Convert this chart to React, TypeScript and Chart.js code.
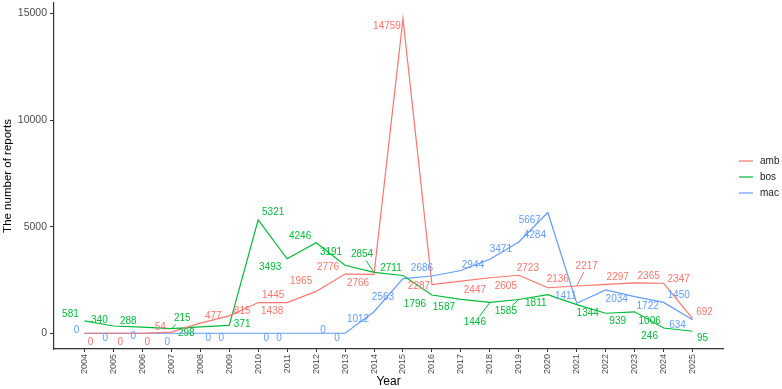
import React, { useEffect, useRef } from "react";
import { Chart, registerables } from "chart.js";

Chart.register(...registerables);

const years = [2004, 2005, 2006, 2007, 2008, 2009, 2010, 2011, 2012, 2013, 2014, 2015, 2016, 2017, 2018, 2019, 2020, 2021, 2022, 2023, 2024, 2025];
const amb = [0, 0, 0, 54, 477, 815, 1445, 1438, 1965, 2776, 2766, 14759, 2287, 2447, 2605, 2723, 2136, 2217, 2297, 2365, 2347, 692];
const bos = [581, 340, 288, 215, 298, 371, 5321, 3493, 4246, 3191, 2854, 2711, 1796, 1587, 1446, 1585, 1811, 1344, 939, 1006, 246, 95];
const mac = [0, 0, 0, 0, 0, 0, 0, 0, 0, 0, 1012, 2563, 2686, 2944, 3471, 4284, 5667, 1411, 2034, 1722, 1450, 634];
const seriesNames = ["amb", "bos", "mac"];
const yTicks = [0, 5000, 10000, 15000];

// label placement (pixel offsets from point, flag = draw connector)
const ambOffsets: [number, number, number][] = [
  [6, 9, 0], [7, 9, 0], [5, 9, 0], [-11, -5, 0], [13, -7, 0], [13, -5, 0], [15, -7, 0], [-15, 9, 0],
  [-15, -10, 0], [-17, -7, 0], [-16, 9, 0], [-16, 8, 0], [-13, 2, 0], [14, 9, 0], [16, 8, 0], [9, -7, 0],
  [10, -8, 0], [10, -20, 1], [12, -7, 0], [14, -7, 0], [15, -4, 0], [12, -6, 0],
];
const bosOffsets: [number, number, number][] = [
  [-14, -7, 0], [-14, -6, 0], [-14, -6, 0], [11, -10, 1], [-14, 6, 0], [13, -1, 0], [15, -8, 0], [-17, 8, 0],
  [-16, -7, 0], [-14, -13, 0], [-12, -18, 1], [-12, -7, 0], [-17, 9, 0], [-17, 8, 0], [-15, 20, 1], [-13, 12, 1],
  [-12, 9, 0], [11, 9, 0], [12, 8, 0], [15, 9, 0], [-14, 8, 0], [10, 7, 0],
];
const macOffsets: [number, number, number][] = [
  [-8, -3, 0], [-8, 5, 0], [-9, 3, 0], [-4, 9, 0], [8, 5, 0], [-8, 5, 0], [8, 5, 0], [-8, 5, 0],
  [7, -3, 0], [-8, 5, 0], [-16, 8, 0], [-20, 19, 0], [-10, -8, 0], [12, -5, 0], [11, -10, 0], [16, -7, 0],
  [-18, 8, 0], [-11, -7, 0], [11, 9, 0], [13, 10, 0], [15, -7, 0], [-15, 5, 0],
];

const colors = ["#F8766D", "#00BA38", "#619CFF"];
const FONT = '"Liberation Sans", Arial, Helvetica, sans-serif';

const labelPlugin = {
  id: "repelLabels",
  afterDatasetsDraw(chart: any) {
    const { ctx } = chart;
    const xs = chart.scales.x;
    const ys = chart.scales.y;
    const defs = [
      { values: amb, offsets: ambOffsets, color: colors[0] },
      { values: bos, offsets: bosOffsets, color: colors[1] },
      { values: mac, offsets: macOffsets, color: colors[2] },
    ];
    ctx.save();
    ctx.font = `10px ${FONT}`;
    ctx.textAlign = "center";
    ctx.textBaseline = "middle";
    defs.forEach((s) => {
      s.values.forEach((v, i) => {
        const px = xs.getPixelForValue(years[i]);
        const py = ys.getPixelForValue(v);
        const [dx, dy, seg] = s.offsets[i];
        const lx = px + dx;
        const ly = py + dy;
        const text = String(v);
        if (seg) {
          const w = ctx.measureText(text).width / 2 + 1;
          const h = 6;
          const ddx = px - lx;
          const ddy = py - ly;
          const t = Math.min(Math.abs(w / (ddx || 1e-6)), Math.abs(h / (ddy || 1e-6)));
          const sx = lx + ddx * t;
          const sy = ly + ddy * t;
          ctx.strokeStyle = s.color;
          ctx.lineWidth = 1;
          ctx.beginPath();
          ctx.moveTo(px, py);
          ctx.lineTo(sx, sy);
          ctx.stroke();
        }
        ctx.fillStyle = s.color;
        ctx.fillText(text, lx, ly);
      });
    });
    // legend
    const legendY = [161, 177, 193];
    ctx.font = `10px ${FONT}`;
    ctx.textAlign = "left";
    seriesNames.forEach((n, i) => {
      ctx.strokeStyle = colors[i];
      ctx.lineWidth = 1.2;
      ctx.beginPath();
      ctx.moveTo(739, legendY[i]);
      ctx.lineTo(753, legendY[i]);
      ctx.stroke();
      ctx.fillStyle = "#1a1a1a";
      ctx.fillText(n, 760, legendY[i]);
    });
    ctx.restore();
  },
};

export default function App() {
  const ref = useRef<HTMLCanvasElement | null>(null);
  useEffect(() => {
    document.body.style.margin = "0";
    if (!ref.current) return;
    const mk = (vals: number[]) => years.map((y, i) => ({ x: y, y: vals[i] }));
    const chart = new Chart(ref.current, {
      type: "line",
      data: {
        datasets: [
          { label: seriesNames[0], data: mk(amb), borderColor: colors[0], backgroundColor: colors[0], borderWidth: 1.2, pointRadius: 0, tension: 0 },
          { label: seriesNames[1], data: mk(bos), borderColor: colors[1], backgroundColor: colors[1], borderWidth: 1.2, pointRadius: 0, tension: 0 },
          { label: seriesNames[2], data: mk(mac), borderColor: colors[2], backgroundColor: colors[2], borderWidth: 1.2, pointRadius: 0, tension: 0 },
        ],
      },
      options: {
        responsive: false,
        animation: false,
        layout: { padding: { top: 3, right: 59, left: 0, bottom: 0 } },
        plugins: { legend: { display: false }, tooltip: { enabled: false } },
        scales: {
          x: {
            type: "linear",
            min: 2002.95,
            max: 2026.05,
            afterBuildTicks: (s: any) => {
              s.ticks = years.map((v) => ({ value: v }));
            },
            afterFit: (s: any) => {
              s.height = 40;
              s.paddingLeft = 0;
              s.paddingRight = 0;
            },
            border: { display: true, color: "#333333", width: 1.2 },
            grid: { display: true, drawOnChartArea: false, drawTicks: true, tickLength: 3, color: "#333333" },
            ticks: {
              autoSkip: false,
              minRotation: 90,
              maxRotation: 90,
              padding: 2,
              color: "#4D4D4D",
              font: { family: FONT, size: 9 },
              callback: (v: any) => String(v),
            },
            title: { display: true, text: "Year", color: "#000000", font: { family: FONT, size: 12 }, padding: { top: 0, bottom: 0 } },
          },
          y: {
            type: "linear",
            min: -738,
            max: 15497,
            afterBuildTicks: (s: any) => {
              s.ticks = yTicks.map((v) => ({ value: v }));
            },
            afterFit: (s: any) => {
              s.width = 54;
              s.paddingTop = 0;
              s.paddingBottom = 0;
            },
            border: { display: true, color: "#333333", width: 1.2 },
            grid: { display: true, drawOnChartArea: false, drawTicks: true, tickLength: 4, color: "#333333" },
            ticks: {
              padding: 3,
              color: "#4D4D4D",
              font: { family: FONT, size: 10.5 },
              callback: (v: any) => String(v),
            },
            title: { display: true, text: "The number of reports", color: "#000000", font: { family: FONT, size: 11.5 }, padding: { top: 1, bottom: 0 } },
          },
        },
      },
      plugins: [labelPlugin],
    });
    return () => chart.destroy();
  }, []);
  return (
    <div style={{ width: 782, height: 389, background: "#ffffff" }}>
      <canvas ref={ref} width={782} height={389} />
    </div>
  );
}
